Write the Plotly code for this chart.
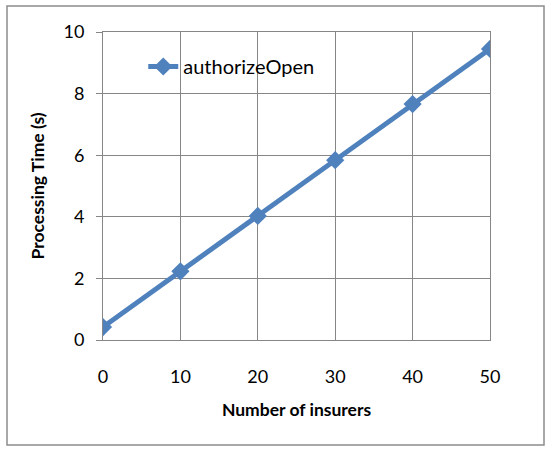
import plotly.graph_objects as go

insurers = [0, 10, 20, 30, 40, 50]
processing_time = [0.42, 2.23, 4.03, 5.84, 7.66, 9.45]
series_name = "authorizeOpen"

fig = go.Figure()
fig.add_trace(go.Scatter(
    x=insurers, y=processing_time, mode="lines+markers", name=series_name,
    line=dict(color="#4F81BD", width=5),
    marker=dict(symbol="diamond", size=14, color="#4F81BD"),
))

# plot area in the window: x 103-490, y 32-340 (body margin removed below)
L, R, T, B = 103, 490, 32, 340
W, H = R - L, B - T

font_family = "Lato, Carlito, Liberation Sans, sans-serif"
fig.update_layout(
    width=550, height=455,
    margin=dict(l=L, r=550 - R, t=T, b=455 - B),
    paper_bgcolor="white", plot_bgcolor="white",
    font=dict(family=font_family, size=18, color="black"),
    showlegend=True,
    legend=dict(x=0.104, y=0.888, xanchor="left", yanchor="middle",
                bgcolor="rgba(0,0,0,0)", font=dict(size=20)),
    xaxis=dict(range=[0, 50], dtick=10, showgrid=True, gridcolor="#868686", gridwidth=1,
               showline=True, linecolor="#868686", mirror=True, ticks="", zeroline=False,
               ticklabelstandoff=20,
               title=dict(text="<b>Number of insurers</b>", font=dict(size=17.5), standoff=18)),
    yaxis=dict(range=[0, 10], dtick=2, showgrid=True, gridcolor="#868686", gridwidth=1,
               showline=True, linecolor="#868686", mirror=True, ticks="outside", ticklen=6,
               tickcolor="#868686", zeroline=False, ticklabelstandoff=8,
               title=dict(text="<b>Processing Time (s)</b>", font=dict(size=17.5), standoff=14)),
    shapes=[dict(type="rect", xref="paper", yref="paper",
                 x0=(7 - L) / W, x1=(544 - L) / W,
                 y0=(B - 445) / H, y1=(B - 6) / H,
                 line=dict(color="#8c8c8c", width=1.5), layer="below")],
)
fig.write_html("out.html", config={"displayModeBar": False},
               post_script="document.body.style.margin='0';document.body.style.overflow='hidden';")
